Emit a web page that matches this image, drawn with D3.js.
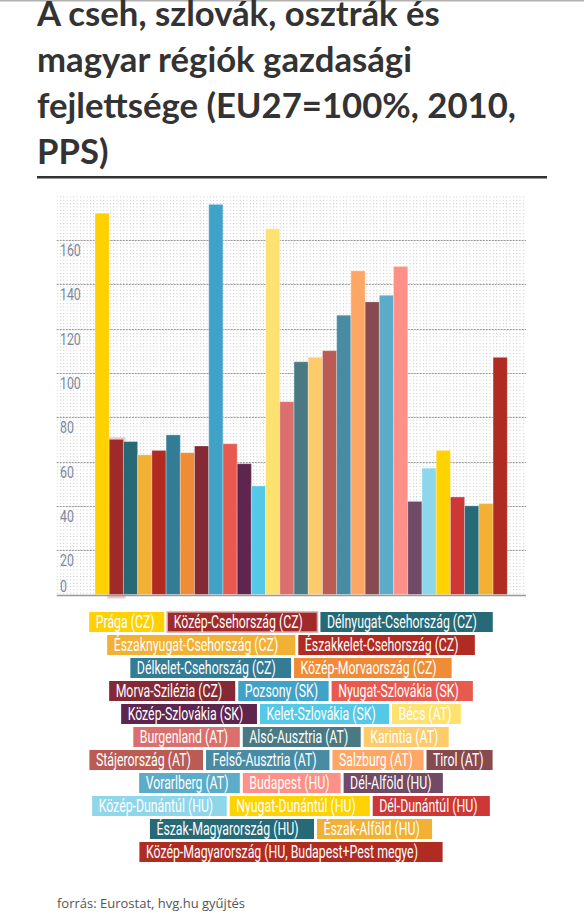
<!DOCTYPE html>
<html><head><meta charset="utf-8">
<script src="https://cdn.jsdelivr.net/npm/d3@7"></script>
<style>body{margin:0;background:#fff;overflow:hidden} svg{display:block}</style>
</head><body>
<svg id="c" width="584" height="914"></svg>
<script>
const regions = ["Prága (CZ)","Közép-Csehország (CZ)","Délnyugat-Csehország (CZ)","Északnyugat-Csehország (CZ)","Északkelet-Csehország (CZ)","Délkelet-Csehország (CZ)","Közép-Morvaország (CZ)","Morva-Szilézia (CZ)","Pozsony (SK)","Nyugat-Szlovákia (SK)","Közép-Szlovákia (SK)","Kelet-Szlovákia (SK)","Bécs (AT)","Burgenland (AT)","Alsó-Ausztria (AT)","Karintia (AT)","Stájerország (AT)","Felső-Ausztria (AT)","Salzburg (AT)","Tirol (AT)","Vorarlberg (AT)","Budapest (HU)","Dél-Alföld (HU)","Közép-Dunántúl (HU)","Nyugat-Dunántúl (HU)","Dél-Dunántúl (HU)","Észak-Magyarország (HU)","Észak-Alföld (HU)","Közép-Magyarország (HU, Budapest+Pest megye)"];
const values = [172,70,69,63,65,72,64,67,176,68,59,49,165,87,105,107,110,126,146,132,135,148,42,57,65,44,40,41,107];
const colors = ["#ffd100","#a0292a","#276a77","#f2b035","#b22b23","#337c96","#f08c35","#852a34","#41a2c7","#e85a4f","#5e264e","#53c9e7","#fee26f","#db6f6d","#4a7983","#fecb6b","#ba5c54","#4a8ba4","#fea663","#864a4f","#5cabc9","#fe9087","#704a66","#8ed7eb","#ffd201","#cd3736","#276a77","#f2b035","#b02b22"];
const yTicks = [0,20,40,60,80,100,120,140,160];
const legendRowSizes = [3,2,2,3,3,3,4,3,3,2,1];
const titleLines = ["A cseh, szlovák, osztrák és","magyar régiók gazdasági","fejlettsége (EU27=100%, 2010,","PPS)"];
const sourceText = "forrás: Eurostat, hvg.hu gyűjtés";
const highlighted = "Közép-Csehország (CZ)";

const svg = d3.select("#c");
const narrow = "Roboto, 'Liberation Sans Narrow', sans-serif";

// top grey rule
svg.append("rect").attr("x",0).attr("y",0).attr("width",584).attr("height",1.5).attr("fill","#b0b0b0");

// title
const tg = svg.append("g");
const titleBase = [26,72,118,164];
const t0 = tg.append("text").attr("x",37).attr("y",titleBase[0])
  .style("font-family","Lato, 'Open Sans', sans-serif").style("font-weight","700").style("font-size","30px").text(titleLines[0]);
const tw = t0.node().getComputedTextLength();
const titleSize = 30*403/tw;
t0.remove();
titleLines.forEach((l,i)=>{
  tg.append("text").attr("x",37).attr("y",titleBase[i]).attr("fill","#333")
   .style("font-family","Lato, 'Open Sans', sans-serif").style("font-weight","700")
   .style("font-size",titleSize+"px").text(l);
});
svg.append("rect").attr("x",37).attr("y",176).attr("width",510).attr("height",2.5).attr("fill","#333");

// plot area
const plot = {left:56.7,right:526,top:195,bottom:595};
const x = d3.scaleBand().domain(regions).range([95,507.3]).padding(0);
const y = d3.scaleLinear().domain([0,180]).range([594.5,195.5]);

const defs = svg.append("defs");
const pat = defs.append("pattern").attr("id","dots").attr("patternUnits","userSpaceOnUse")
  .attr("width",3.33).attr("height",3.33);
pat.append("rect").attr("width",1).attr("height",1).attr("fill","#c4c4c4");
svg.append("rect").attr("x",plot.left).attr("y",plot.top).attr("width",plot.right-plot.left)
  .attr("height",plot.bottom-plot.top).attr("fill","url(#dots)");

// calibrate condensed scale
const LFS = 18.5;
const probe = svg.append("text").style("font-family",narrow).style("font-size",LFS+"px").text("Délkelet-Csehország (CZ)");
const sx = 139/probe.node().getComputedTextLength();
probe.remove();

// gridlines
svg.append("g").selectAll("line").data(yTicks.filter(d=>d>0)).join("line")
  .attr("x1",plot.left).attr("x2",plot.right).attr("y1",d=>Math.round(y(d))+0.5).attr("y2",d=>Math.round(y(d))+0.5)
  .attr("stroke","#9a9a9a").attr("stroke-width",1).attr("stroke-dasharray","2,1");

// y labels
const ysx = sx*LFS/16;
svg.append("g").selectAll("text").data(yTicks).join("text")
  .attr("transform",d=>`translate(60,${Math.min(y(d)+16,y(0)-3)}) scale(${ysx},1)`)
  .attr("fill","#7a889c").style("font-family",narrow).style("font-size","16px").text(d=>d);

// bars
const bars = svg.append("g");
bars.selectAll("rect.glow").data(regions.filter(r=>r===highlighted)).join("rect")
  .attr("x",d=>x(d)-2).attr("y",(d)=>y(values[regions.indexOf(d)])-2)
  .attr("width",x.bandwidth()+4).attr("height",d=>y(0)-y(values[regions.indexOf(d)])+6)
  .attr("fill","#e8a0a0").attr("opacity",0.6);
bars.selectAll("rect.bar").data(regions).join("rect").attr("class","bar")
  .attr("x",d=>x(d)).attr("y",(d,i)=>y(values[i]))
  .attr("width",x.bandwidth()).attr("height",(d,i)=>y(0)-y(values[i]))
  .attr("fill",(d,i)=>colors[i]).attr("stroke","rgba(255,255,255,0.3)").attr("stroke-width",1);

// axis line
svg.append("line").attr("x1",plot.left).attr("x2",plot.right).attr("y1",595.5).attr("y2",595.5)
  .attr("stroke","#999").attr("stroke-width",1.5);

// legend
const lg = svg.append("g");
let idx = 0;
const center = 291, gap = 3;
legendRowSizes.forEach((n,r)=>{
  const items = regions.slice(idx, idx+n).map((name,k)=>({name, i: idx+k}));
  idx += n;
  const top = 612 + r*23;
  items.forEach(it=>{
    const t = lg.append("text").style("font-family",narrow).style("font-size",LFS+"px").text(it.name);
    it.tw = t.node().getComputedTextLength()*sx;
    t.remove();
    it.w = it.tw*1.07 + 12;
  });
  const total = d3.sum(items,d=>d.w) + gap*(n-1);
  let cx = center - total/2;
  items.forEach(it=>{
    const g = lg.append("g").attr("transform",`translate(${cx},${top})`);
    g.append("rect").attr("width",it.w).attr("height",20).attr("fill",colors[it.i])
      .attr("stroke", it.name===highlighted ? "#d8a4a4" : "none").attr("stroke-width",1.5);
    g.append("text").attr("transform",`translate(6.5,15.8) scale(${sx},1)`).attr("fill","#fff")
      .style("font-family",narrow).style("font-size",LFS+"px").text(it.name);
    cx += it.w + gap;
  });
});

// source
svg.append("text").attr("x",57).attr("y",908).attr("fill","#555")
  .style("font-family","'Open Sans', sans-serif").style("font-size","13px").text(sourceText);
</script>
</body></html>
